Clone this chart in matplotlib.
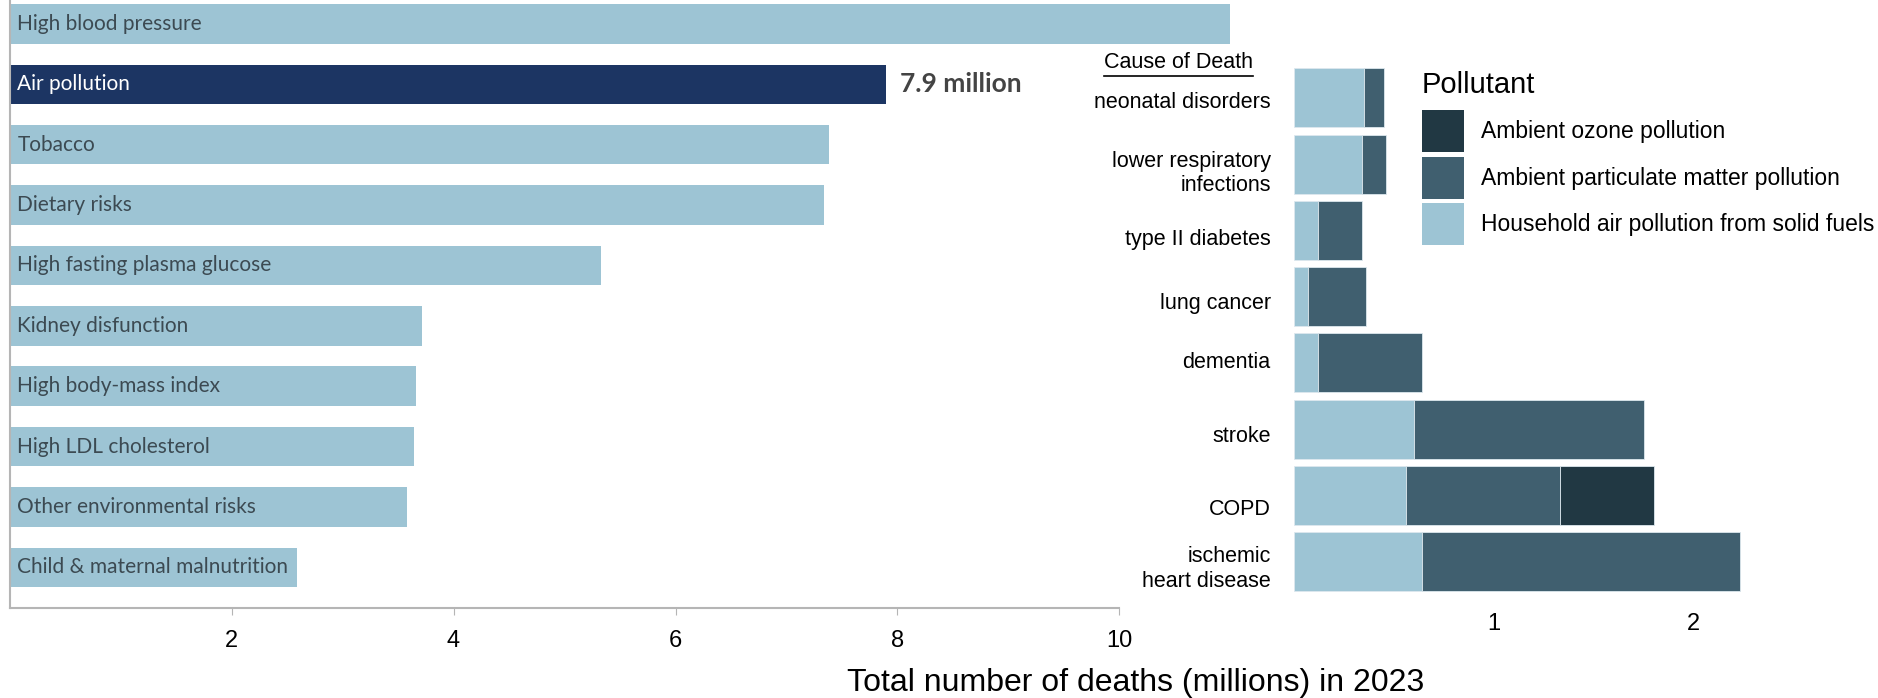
import numpy as np
import matplotlib
matplotlib.use('Agg')
import matplotlib.pyplot as plt
from matplotlib.patches import Patch
from matplotlib.lines import Line2D
from matplotlib.transforms import ScaledTranslation

# left chart: risk factors
risks = ['High blood pressure', 'Air pollution', 'Tobacco', 'Dietary risks',
         'High fasting plasma glucose', 'Kidney disfunction', 'High body-mass index',
         'High LDL cholesterol', 'Other environmental risks', 'Child & maternal malnutrition']
risk_deaths = [11.0, 7.9, 7.38, 7.34, 5.33, 3.72, 3.66, 3.64, 3.58, 2.59]
left_ticks = [2, 4, 6, 8, 10]

# right chart: air pollution deaths by cause
causes = ['neonatal disorders', 'lower respiratory\ninfections', 'type II diabetes',
          'lung cancer', 'dementia', 'stroke', 'COPD', 'ischemic\nheart disease']
household = [0.35, 0.34, 0.12, 0.07, 0.12, 0.60, 0.56, 0.64]
particulate = [0.10, 0.12, 0.22, 0.29, 0.52, 1.15, 0.77, 1.59]
ozone = [0.0, 0.0, 0.0, 0.0, 0.0, 0.0, 0.47, 0.0]
right_ticks = [1, 2]
pollutants = ['Ambient ozone pollution', 'Ambient particulate matter pollution',
              'Household air pollution from solid fuels']

light = '#9dc4d4'
navy = '#1c3563'
pm_col = '#405f6f'
oz_col = '#213843'
label_grey = '#3c4a52'

fig = plt.figure(figsize=(18.78, 6.98), dpi=100)

# ---- left chart ----
ax1 = fig.add_axes([0.0051, 0.129, 0.591, 0.871])
pos = np.arange(len(risks))
cols = [navy if r == 'Air pollution' else light for r in risks]
ax1.barh(pos, risk_deaths, height=0.654, color=cols, clip_on=False)
for i, r in enumerate(risks):
    ax1.text(0.07, i, r, va='center', ha='left', fontsize=15, family='Lato',
             color='white' if r == 'Air pollution' else label_grey)
ax1.text(risk_deaths[1] + 0.12, 1, '7.9 million', va='center', ha='left',
         fontsize=19, family='Lato', fontweight='bold', color='#444444')
ax1.set_xlim(0, 10)
ax1.set_ylim(9.674, -0.397)
ax1.set_xticks(left_ticks)
ax1.set_yticks([])
for s in ['top', 'right']:
    ax1.spines[s].set_visible(False)
for s in ['left', 'bottom']:
    ax1.spines[s].set_color('#b5b5b5')
    ax1.spines[s].set_linewidth(1.5)
ax1.tick_params(axis='x', length=5, color='#b5b5b5', pad=11, labelsize=17)
for t in ax1.get_xticklabels():
    t.set_family('Liberation Sans')

# ---- right chart ----
ax2 = fig.add_axes([0.6888, 0.1475, 0.2679, 0.760])
pos2 = np.arange(len(causes))
edge = dict(edgecolor='#dde8ee', linewidth=0.6)
ax2.barh(pos2, household, height=0.89, color=light, **edge)
ax2.barh(pos2, particulate, left=household, height=0.89, color=pm_col, **edge)
left_oz = np.array(household) + np.array(particulate)
oz_pos = [i for i in pos2 if ozone[i] > 0]
ax2.barh(oz_pos, [ozone[i] for i in oz_pos], left=[left_oz[i] for i in oz_pos],
         height=0.89, color=oz_col, **edge)
ax2.set_xlim(0, 2.515)
ax2.set_ylim(7.5, -0.5)
ax2.set_xticks(right_ticks)
ax2.set_yticks(pos2)
ax2.set_yticklabels(causes, family='Liberation Sans', fontsize=15.5)
ax2.tick_params(axis='y', length=0, pad=16.5)
ax2.tick_params(axis='x', length=0, pad=13, labelsize=17)
for t in ax2.get_xticklabels():
    t.set_family('Liberation Sans')
for s in ax2.spines.values():
    s.set_visible(False)

# the labels in the original sit a little below the bar centres
nudge_px = [2, 5, 7, 4, -3, 5, 11, 3]
for lab, dy in zip(ax2.get_yticklabels(), nudge_px):
    lab.set_transform(lab.get_transform() + ScaledTranslation(0, -dy / 100, fig.dpi_scale_trans))

cod = fig.text(0.6276, 0.9108, 'Cause of Death', ha='center', va='center',
               family='Liberation Sans', fontsize=15.5)

fig.text(0.757, 1 - 71 / 583, 'Pollutant', ha='left', va='center',
         family='Liberation Sans', fontsize=21)
handles = [Patch(facecolor=oz_col), Patch(facecolor=pm_col), Patch(facecolor=light)]
leg = fig.legend(handles, pollutants,
                 loc='upper left', bbox_to_anchor=(0.757, 0.842), frameon=False,
                 borderpad=0, borderaxespad=0, handlelength=1.83, handleheight=2.44,
                 labelspacing=0.2, handletextpad=0.75,
                 prop={'family': 'Liberation Sans', 'size': 16.5})

fig.text(0.6046, 0.022, 'Total number of deaths (millions) in 2023', ha='center',
         va='center', family='Liberation Sans', fontsize=23)

# underline for the "Cause of Death" header
fig.canvas.draw()
bb = cod.get_window_extent(renderer=fig.canvas.get_renderer()).transformed(fig.transFigure.inverted())
fig.add_artist(Line2D([bb.x0, bb.x1], [bb.y0 - 0.004, bb.y0 - 0.004], color='black',
                      linewidth=1.2, transform=fig.transFigure))

fig.savefig('out.png', dpi=100)
